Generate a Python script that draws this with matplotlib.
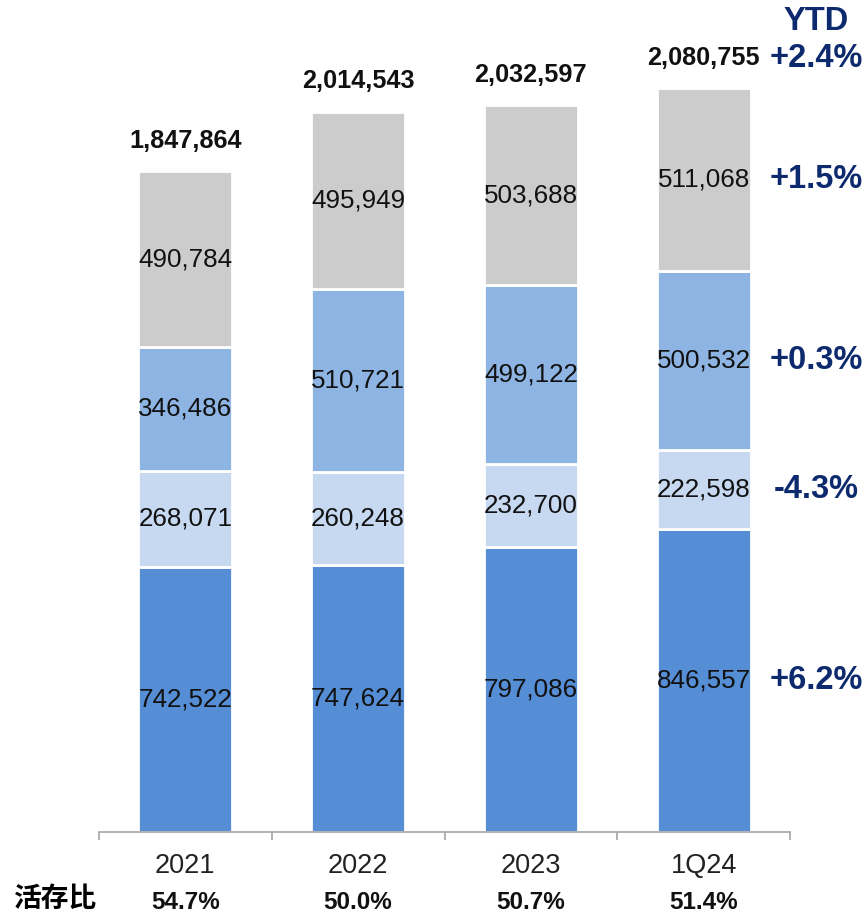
import matplotlib.pyplot as plt
import numpy as np

periods = ["2021", "2022", "2023", "1Q24"]
# stacked from the bottom up
seg_bottom = [742522, 747624, 797086, 846557]
seg_light = [268071, 260248, 232700, 222598]
seg_mid = [346486, 510721, 499122, 500532]
seg_top = [490784, 495949, 503688, 511068]
totals = [1847864, 2014543, 2032597, 2080755]
ytd = ["+6.2%", "-4.3%", "+0.3%", "+1.5%"]
ytd_total = "+2.4%"
ratio_label = "活存比"
ratios = ["54.7%", "50.0%", "50.7%", "51.4%"]

colors = ["#558ED5", "#C6D9F1", "#8EB4E3", "#CCCCCC"]
navy = "#0E2A6E"

plt.rcParams['font.family'] = ['Liberation Sans', 'DejaVu Sans']

fig = plt.figure(figsize=(8.67, 9.14), dpi=100)
ax_left, ax_w = 99, 691
ax = fig.add_axes([ax_left / 867, (914 - 832) / 914, ax_w / 867, 812 / 914])

x = np.arange(len(periods))
series = [seg_bottom, seg_light, seg_mid, seg_top]
base = np.zeros(len(periods))
for vals, col in zip(series, colors):
    vals = np.array(vals, dtype=float)
    ax.bar(x, vals, width=0.545, bottom=base, color=col,
           edgecolor="white", linewidth=2.0)
    for xi, b, v in zip(x, base, vals):
        ax.text(xi, b + v / 2, f"{int(v):,}", ha="center", va="center",
                fontsize=18.7, color="#111111")
    base += vals

# totals above each bar
for xi, t, top in zip(x, totals, base):
    ax.annotate(f"{t:,}", (xi, top), xytext=(0, 22), textcoords="offset points",
                ha="center", va="center", fontsize=18.2, fontweight="bold",
                color="#111111")

# YTD change column to the right of the last bar
last = len(periods) - 1
dx = 81
b = 0.0
for vals, lab in zip(series, ytd):
    v = vals[last]
    ax.annotate(lab, (last, b + v / 2), xytext=(dx, 0), textcoords="offset points",
                ha="center", va="center", fontsize=23.5, fontweight="bold",
                color=navy, annotation_clip=False)
    b += v
ax.annotate(ytd_total, (last, base[last]), xytext=(dx, 21), textcoords="offset points",
            ha="center", va="center", fontsize=23.5, fontweight="bold",
            color=navy, annotation_clip=False)
ax.annotate("YTD", (last, base[last]), xytext=(dx, 48), textcoords="offset points",
            ha="center", va="center", fontsize=23.5, fontweight="bold",
            color=navy, annotation_clip=False)

ax.set_xlim(-0.5, 3.5)
ax.set_ylim(0, 812 / 357.5 * 1e6)
for s in ["top", "right", "left"]:
    ax.spines[s].set_visible(False)
ax.spines["bottom"].set_color("#A6A6A6")
ax.spines["bottom"].set_linewidth(1.2)
ax.set_yticks([])
ax.set_xticks(x)
ax.set_xticklabels(periods, fontsize=19.5, color="#222222")
ax.tick_params(axis="x", which="major", length=0, pad=15)
ax.set_xticks(np.arange(-0.5, 4.0, 1.0), minor=True)
ax.tick_params(axis="x", which="minor", length=6, color="#A6A6A6", width=1.2)

# deposit ratio row under the axis
ybot = (914 - 899) / 914
fig.text(55 / 867, ybot, ratio_label, ha="center", va="center", fontsize=20,
         fontweight="bold", family=['Noto Sans CJK TC', 'DejaVu Sans'])
step = ax_w / 4
for xi, r in zip(x, ratios):
    xf = (ax_left + (xi + 0.5) * step) / 867
    fig.text(xf, ybot - 0.004, r, ha="center", va="center", fontsize=17.5,
             fontweight="bold", color="#111111")

fig.savefig("out.png", dpi=100)
